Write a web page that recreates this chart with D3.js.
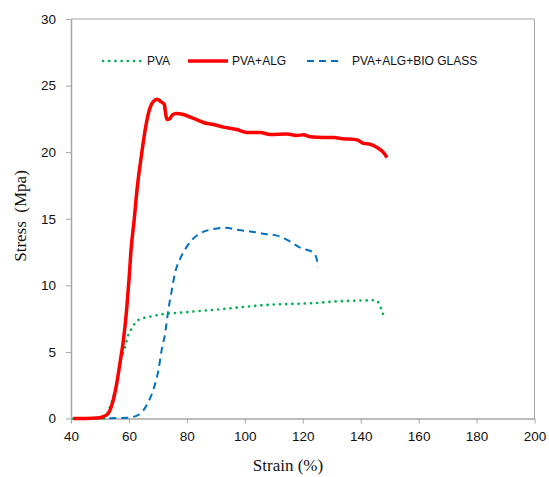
<!DOCTYPE html>
<html><head><meta charset="utf-8">
<script src="https://cdn.jsdelivr.net/npm/d3@7"></script>
<style>body{margin:0;background:#fff}svg{display:block}</style>
</head><body>
<svg id="c" width="549" height="477"></svg>
<script>
const seriesNames = ["PVA", "PVA+ALG", "PVA+ALG+BIO GLASS"];
const xTicks = [40, 60, 80, 100, 120, 140, 160, 180, 200];
const yTicks = [0, 5, 10, 15, 20, 25, 30];
const pva = [[40.8,0],[51.2,0],[53.5,0.9],[55.2,2.15],[56.9,4.15],[58.7,5.4],[59.8,6.28],[61,6.78],[63.3,7.4],[67.3,7.65],[74.2,7.9],[78,7.95],[84.6,8.08],[91.5,8.2],[100.7,8.4],[107.6,8.53],[115.7,8.6],[123.7,8.66],[131.8,8.8],[138.7,8.85],[145,8.88],[146.5,8.6],[147.1,8.2],[147.9,7.75]];
const pvaAlg = [[40.8,0],[45,0],[50,0.05],[51.2,0.15],[52.9,0.4],[54.6,1.4],[55.8,2.65],[56.9,4.15],[58.1,5.9],[59.2,8.15],[60.1,10.65],[60.7,12.6],[61.8,14.9],[62.9,17.4],[64.4,19.9],[65.6,21.66],[66.7,22.9],[68.4,23.8],[69.8,23.98],[71,23.8],[72.2,23.6],[72.6,23.0],[73.1,22.46],[74,22.5],[75,22.8],[76.3,22.9],[78.8,22.83],[82.3,22.53],[85.7,22.23],[89.2,22.08],[92.6,21.88],[97.3,21.7],[100.7,21.48],[105.3,21.48],[108.8,21.33],[114.5,21.36],[118,21.26],[120.3,21.3],[122.6,21.16],[127.2,21.1],[130.6,21.1],[134.1,21.0],[137.6,20.96],[139,20.9],[141,20.66],[143.3,20.6],[145.6,20.36],[147.9,19.96],[149.1,19.6]];
const pvaAlgBio = [[40.8,0],[59.2,0.05],[63.3,0.28],[66.2,1.03],[68.4,2.15],[70.2,3.65],[71.3,5.15],[72.5,6.4],[73.6,8.15],[74.8,9.65],[76,11.0],[77.7,12.0],[79.4,12.7],[81.7,13.4],[84.6,13.9],[89.2,14.23],[93.2,14.33],[97.8,14.16],[102.4,14.03],[107,13.86],[111.1,13.73],[115.1,13.36],[119.1,12.83],[123.7,12.45],[124.9,11.9],[125.1,11.36]];

const svg = d3.select("#c");
const m = {l:71, t:19, r:534.5, b:418.5};
const x = d3.scaleLinear().domain([40,200]).range([m.l, m.r]);
const y = d3.scaleLinear().domain([0,30]).range([m.b, m.t]);
const axisCol = "#a6a6a6";
const sans = "Liberation Sans, Arial, sans-serif";
const serif = "Liberation Serif, Times New Roman, serif";

svg.append("line").attr("x1",m.l).attr("x2",m.r).attr("y1",m.t).attr("y2",m.t).attr("stroke",axisCol).attr("stroke-width",1);
svg.append("line").attr("x1",m.r).attr("x2",m.r).attr("y1",m.t).attr("y2",m.b).attr("stroke",axisCol).attr("stroke-width",1);

const gx = svg.append("g").attr("transform",`translate(0,${m.b})`)
  .call(d3.axisBottom(x).tickValues(xTicks).tickSize(5).tickPadding(8).tickSizeOuter(0));
const gy = svg.append("g").attr("transform",`translate(${m.l},0)`)
  .call(d3.axisLeft(y).tickValues(yTicks).tickSize(5).tickPadding(10).tickSizeOuter(0));
[gx, gy].forEach(g => {
  g.attr("font-family", sans).attr("font-size", 13.5);
  g.select(".domain").attr("stroke",axisCol).attr("stroke-width",1.5);
  g.selectAll(".tick line").attr("stroke",axisCol);
  g.selectAll(".tick text").attr("fill","#111");
});

const line = d3.line().x(d=>x(d[0])).y(d=>y(d[1])).curve(d3.curveMonotoneX);
svg.append("path").datum(pvaAlgBio).attr("d",line).attr("fill","none").attr("stroke","#0070c0").attr("stroke-width",2).attr("stroke-dasharray","7 5");
svg.append("path").datum(pva).attr("d",line).attr("fill","none").attr("stroke","#00b050").attr("stroke-width",2.6).attr("stroke-linecap","round").attr("stroke-dasharray","0.1 6.1");
svg.append("path").datum(pvaAlg).attr("d",line).attr("fill","none").attr("stroke","#ff0000").attr("stroke-width",3.5).attr("stroke-linejoin","round");

const ly = 61;
const leg = [
  {x1:103,x2:142,tx:147,color:"#00b050",w:2.6,dash:"0.1 6.1",cap:"round"},
  {x1:188,x2:228,tx:232,color:"#ff0000",w:3.5,dash:null,cap:"butt"},
  {x1:307,x2:339,tx:352,color:"#0070c0",w:2,dash:"7 5",cap:"butt"}
];
leg.forEach((d,i)=>{
  const l = svg.append("line").attr("x1",d.x1).attr("x2",d.x2).attr("y1",ly).attr("y2",ly)
    .attr("stroke",d.color).attr("stroke-width",d.w).attr("stroke-linecap",d.cap);
  if (d.dash) l.attr("stroke-dasharray",d.dash);
  svg.append("text").attr("x",d.tx).attr("y",ly).attr("dominant-baseline","central")
    .attr("font-family",sans).attr("font-size",12).attr("fill","#111")
    .text(seriesNames[i]);
});

svg.append("text").attr("x",288).attr("y",471).attr("text-anchor","middle")
  .attr("font-family",serif).attr("font-size",17).attr("fill","#111")
  .text("Strain (%)");
svg.append("text").attr("transform","translate(20,216) rotate(-90)").attr("text-anchor","middle").attr("dominant-baseline","central")
  .attr("font-family",serif).attr("font-size",17).attr("fill","#111")
  .style("white-space","pre")
  .text("Stress  (Mpa)");
</script>
</body></html>
